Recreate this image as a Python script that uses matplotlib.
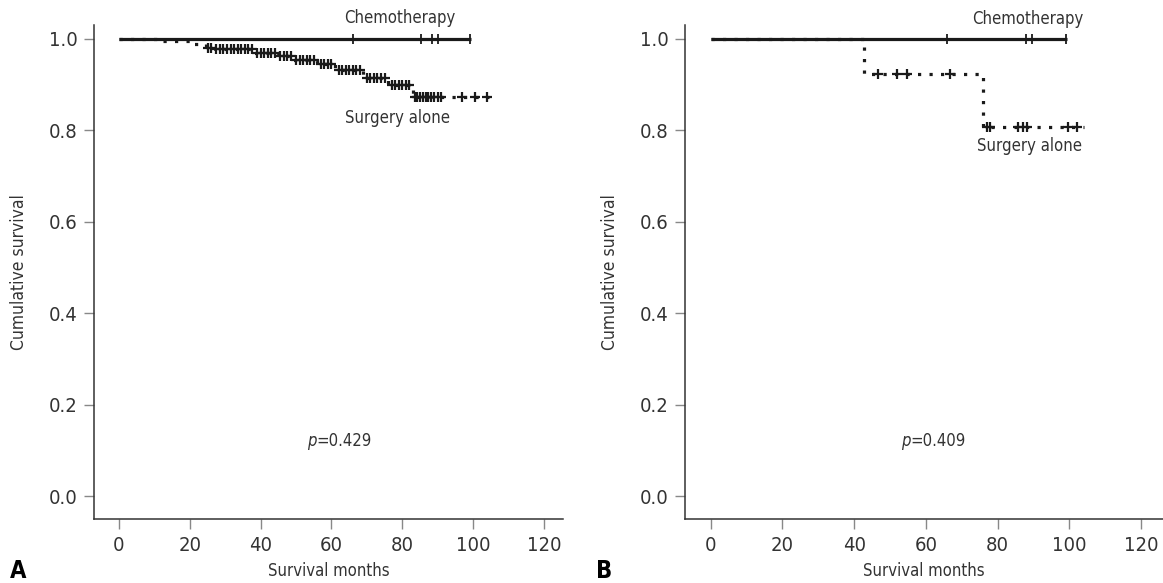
import matplotlib
matplotlib.use("Agg")
import matplotlib.pyplot as plt

# ---------------- data ----------------
# Panel A
chemoA_end = 99.5
chemoA_censor = [66.1, 85.3, 88.4, 90.1, 99.2]

survA_times = [0, 12, 20, 24.5, 27, 38, 45, 49, 56, 61, 69, 76, 83]
survA_surv = [1.0, 0.995, 0.990, 0.981, 0.977, 0.970, 0.962, 0.954, 0.945, 0.932, 0.914, 0.899, 0.874]
survA_end = 104.5
survA_censor = [25, 26, 27.5, 28.5, 29.5, 30.5, 31.5, 32.5, 33.5, 34.5, 35.5, 36.5, 37.5,
                39, 40, 41, 42, 43, 44, 45.5, 46.5, 47.5, 48.5,
                50, 51, 52, 53, 54, 55, 57, 58, 59, 60,
                62, 63, 64, 65, 66, 67, 68, 70, 71, 72, 73, 74, 75,
                77, 78, 79, 80, 81, 82,
                83.5, 84.2, 85, 85.8, 86.6, 87.4, 88.2, 89, 90, 91, 97, 100.5, 104]

# Panel B
chemoB_end = 99.3
chemoB_censor = [65.8, 87.9, 89.5, 99.1]

survB_times = [0, 42.7, 76.0]
survB_surv = [1.0, 0.923, 0.808]
survB_end = 104.0
survB_censor = [46.7, 51.9, 54.7, 66.7, 77.1, 77.9, 85.7, 87.1, 88.1, 99.6, 102.0]

x_ticks = [0, 20, 40, 60, 80, 100, 120]
y_ticks = [0.0, 0.2, 0.4, 0.6, 0.8, 1.0]

pA = "0.429"
pB = "0.409"

# ---------------- style ----------------
plt.rcParams['font.family'] = ['DejaVu Sans']
plt.rcParams['font.stretch'] = 'condensed'

TXT = '#333333'
fig = plt.figure(figsize=(11.63, 5.83), dpi=100)


def surv_at(t, times, surv):
    s = surv[0]
    for ti, si in zip(times, surv):
        if t >= ti:
            s = si
    return s


def panel(ax, chemo_end, chemo_censor, times, surv, s_end, s_censor, p, chem_xy, surg_xy, p_x, xlim):
    ax.plot([0, chemo_end], [1.0, 1.0], color='#1a1a1a', lw=2.3, solid_capstyle='butt')
    ax.plot(chemo_censor, [1.0] * len(chemo_censor), ls='none', marker='|',
            ms=7, mew=1.3, color='#1a1a1a')
    xs = list(times) + [s_end]
    ys = list(surv) + [surv[-1]]
    ax.plot(xs, ys, drawstyle='steps-post', color='#1a1a1a', lw=2.3,
            ls=(0, (1, 2.6)))
    cy = [surv_at(t, times, surv) for t in s_censor]
    ax.plot(s_censor, cy, ls='none', marker='+', ms=6.5, mew=1.6, color='#1a1a1a')

    ax.set_xlim(*xlim)
    ax.set_ylim(-0.0503, 1.0306)
    ax.set_xticks(x_ticks)
    ax.set_yticks(y_ticks)
    ax.set_yticklabels([f"{v:.1f}" for v in y_ticks])
    for s in ['top', 'right']:
        ax.spines[s].set_visible(False)
    for s in ['left', 'bottom']:
        ax.spines[s].set_color('#333333')
        ax.spines[s].set_linewidth(1.1)
    ax.tick_params(axis='both', direction='out', length=7, width=1.0, color='#888888',
                   labelsize=14.5, labelcolor=TXT, pad=5)
    ax.set_xlabel('Survival months', fontsize=12, color=TXT, labelpad=5)
    ax.set_ylabel('Cumulative survival', fontsize=12.5, color=TXT, labelpad=15)
    ax.text(chem_xy[0], chem_xy[1], 'Chemotherapy', fontsize=12, color=TXT,
            ha='center', va='center', clip_on=False)
    ax.text(surg_xy[0], surg_xy[1], 'Surgery alone', fontsize=12, color=TXT,
            ha='center', va='center', clip_on=False)
    ax.text(p_x, 0.12, 'p', fontsize=12, color=TXT, ha='right', va='center',
            style='italic')
    ax.text(p_x, 0.12, '=' + p, fontsize=12, color=TXT, ha='left', va='center')


axA = fig.add_axes([94 / 1163, 1 - 519 / 583, (563 - 94) / 1163, (519 - 25) / 583])
panel(axA, chemoA_end, chemoA_censor, survA_times, survA_surv, survA_end, survA_censor,
      pA, (79.4, 1.047), (78.6, 0.827), 55.8, (-7.06, 125.4))

axB = fig.add_axes([685 / 1163, 1 - 519 / 583, (1163 - 685) / 1163, (519 - 25) / 583])
panel(axB, chemoB_end, chemoB_censor, survB_times, survB_surv, survB_end, survB_censor,
      pB, (88.5, 1.043), (88.8, 0.765), 55.8, (-7.17, 126.1))

fig.text(10 / 1163, 1 - 571 / 583, 'A', fontsize=17, fontweight='bold', color='black',
         ha='left', va='center')
fig.text(596 / 1163, 1 - 571 / 583, 'B', fontsize=17, fontweight='bold', color='black',
         ha='left', va='center')

fig.savefig('out.png', dpi=100)
